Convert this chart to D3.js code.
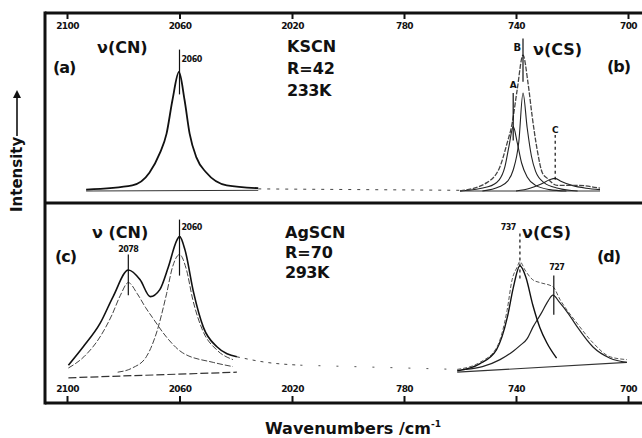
<!DOCTYPE html>
<html>
<head>
<meta charset="utf-8">
<script src="https://cdn.jsdelivr.net/npm/d3@7"></script>
<style>
  body { margin: 0; background: #fff; }
  svg { display: block; }
  text { font-family: "DejaVu Sans", sans-serif; font-weight: bold; fill: #111; }
</style>
</head>
<body>
<div id="chart"></div>
<script>
// tick labels (both panels share the same wavenumber ticks)
var cnTicks = [2100, 2060, 2020];
var csTicks = [780, 740, 700];

// (a) KSCN, nu(CN) band, [wavenumber, intensity]
var kscnCN = [[2093.2, 1], [2076.8, 4], [2070.7, 13], [2067, 27], [2064.6, 41], [2062.5, 65],
              [2060.2, 85], [2058.2, 65], [2056.4, 41], [2054, 24], [2050.4, 13], [2043.2, 4], [2032, 2]];
var kscnCNbase = [[2093.2, 0], [2032, 0.5]];

// (b) KSCN, nu(CS) observed band and fitted components A, B, C
var kscnCS = [[760, 0], [750.4, 6], [745.8, 17], [743.2, 34], [741.4, 48], [739.6, 72], [737.5, 97],
              [735.7, 77], [734.2, 53], [732.4, 29], [730.6, 13], [728.8, 9], [725.3, 4], [718, 4], [710, 2]];
var kscnA = [[760, 0], [750, 3], [746, 8], [744, 17], [742.5, 32], [741, 46], [739.5, 34],
             [738, 20], [736, 10], [733, 4], [728, 1], [722, 0]];
var kscnB = [[752, 0], [746, 3], [743, 7], [741, 15], [739, 35], [737.5, 70], [736, 45],
             [734.5, 25], [733, 14], [730, 6], [725, 2], [718, 0]];
var kscnC = [[740, 0], [735, 2], [731, 5], [728, 8], [726, 9], [724, 7], [720, 4], [715, 2], [710, 1]];
var kscnCSbase = [[760, 0], [710, 0]];

// (c) AgSCN, nu(CN) observed band and components at 2078 and 2060
var agCN = [[2099.5, 7], [2094.3, 20], [2088.2, 37], [2083.6, 56], [2078.2, 75], [2074, 68],
            [2070.4, 56], [2067, 61], [2064, 77], [2061, 96], [2060, 99], [2058, 89], [2055, 59],
            [2051.5, 34], [2046.6, 20], [2039.6, 13]];
var agCNtail = [[2039.6, 13], [2029, 9], [2017, 7]];
var ag2078 = [[2099.5, 5], [2094, 13], [2088, 28], [2084, 43], [2081, 57], [2078.2, 66], [2075, 58],
              [2072, 48], [2069.6, 41], [2064.6, 27], [2059, 16], [2048, 9], [2041, 6]];
var ag2060 = [[2082, 2], [2076.8, 5], [2071.8, 13], [2068.2, 30], [2064.6, 58], [2062.5, 77],
              [2060, 86], [2057.5, 75], [2055.3, 54], [2051.8, 32], [2046.8, 18], [2041, 11]];
var agCNbase = [[2099.5, -2], [2039.6, 2]];

// (d) AgSCN, nu(CS) observed band and components at 737 and 727
var agCS = [[761, 4], [752.9, 9], [746.8, 20], [743.2, 46], [741.4, 68], [739.6, 77], [738.6, 81],
            [736.8, 75], [734, 68], [731.4, 66], [726.8, 63], [724.3, 54], [718.2, 37], [712.5, 23],
            [706.4, 13], [700.4, 11]];
var ag737 = [[761, 3], [753, 8], [747, 18], [743, 42], [741, 62], [738.6, 78], [736.5, 70],
             [734, 50], [731.5, 34], [729, 23], [725.5, 12]];
var ag727 = [[758, 4], [752, 6], [745.7, 11], [741, 17], [738.6, 21], [736, 26], [734, 34], [731, 44],
             [728.5, 53], [726.8, 57], [724.5, 52], [721, 43], [718, 34], [712.5, 20], [706.4, 12], [700.4, 9]];
var agCSbase = [[761, 2], [700.4, 9]];

var W = 642, H = 438;
var svg = d3.select("#chart").append("svg").attr("width", W).attr("height", H);

var frame = {left: 45, top: 13, mid: 203, bottom: 403};

var xCN = d3.scaleLinear().domain([2100, 2020]).range([67, 292]);
var xCS = d3.scaleLinear().domain([780, 700]).range([404, 628]);
var yTop = d3.scaleLinear().domain([0, 100]).range([191, 51]);
var yBot = d3.scaleLinear().domain([0, 100]).range([375, 235]);

// frame
var fr = svg.append("g").attr("stroke", "#111").attr("stroke-width", 3).attr("fill", "none");
fr.append("line").attr("x1", frame.left).attr("x2", W).attr("y1", frame.top).attr("y2", frame.top);
fr.append("line").attr("x1", frame.left).attr("x2", W).attr("y1", frame.mid).attr("y2", frame.mid);
fr.append("line").attr("x1", frame.left).attr("x2", W).attr("y1", frame.bottom).attr("y2", frame.bottom);
fr.append("line").attr("x1", frame.left).attr("x2", frame.left).attr("y1", frame.top - 1.5).attr("y2", frame.bottom + 1.5);

// axes: top one with ticks hanging down, bottom one with ticks standing up
function styleAxis(g) {
    g.select(".domain").remove();
    g.selectAll(".tick line").attr("stroke", "#111").attr("stroke-width", 2);
    g.selectAll(".tick text").style("font-size", "9px").attr("letter-spacing", "-0.6");
}
[xCN, xCS].forEach(function (sc, i) {
    var ticks = i == 0 ? cnTicks : csTicks;
    svg.append("g").attr("transform", "translate(0," + frame.top + ")")
        .call(d3.axisBottom(sc).tickValues(ticks).tickSize(6).tickPadding(4).tickFormat(d3.format("d")))
        .call(styleAxis);
    svg.append("g").attr("transform", "translate(0," + frame.bottom + ")")
        .call(d3.axisTop(sc).tickValues(ticks).tickSize(7).tickPadding(4).tickFormat(d3.format("d")))
        .call(styleAxis);
});

function lineFor(x, y) {
    return d3.line().x(function (d) { return x(d[0]); }).y(function (d) { return y(d[1]); })
        .curve(d3.curveMonotoneX);
}
function draw(data, x, y, width, color, dash) {
    svg.append("path").datum(data)
        .attr("d", lineFor(x, y))
        .attr("fill", "none")
        .attr("stroke", color)
        .attr("stroke-width", width)
        .attr("stroke-dasharray", dash || null);
}

// panel a
draw(kscnCNbase, xCN, yTop, 1, "#333");
draw(kscnCN, xCN, yTop, 1.8, "#111");
// panel b
draw(kscnCSbase, xCS, yTop, 1, "#333");
draw(kscnC, xCS, yTop, 1.1, "#222");
draw(kscnA, xCS, yTop, 1.1, "#222");
draw(kscnB, xCS, yTop, 1.1, "#222");
draw(kscnCS, xCS, yTop, 1.3, "#444", "5,1.5");
// dashed baseline across the gap in the top panel
svg.append("line")
    .attr("x1", xCN(2032)).attr("x2", xCS(760)).attr("y1", yTop(1.5)).attr("y2", yTop(0.5))
    .attr("stroke", "#444").attr("stroke-width", 1).attr("stroke-dasharray", "3,6");

// panel c
draw(agCNbase, xCN, yBot, 1.2, "#333", "8,3");
draw(ag2078, xCN, yBot, 1, "#444", "6,2");
draw(ag2060, xCN, yBot, 1, "#444", "6,2");
draw(agCN, xCN, yBot, 1.6, "#111");
draw(agCNtail, xCN, yBot, 1, "#444", "3,5");
svg.append("line")
    .attr("x1", xCN(2017)).attr("x2", xCS(761)).attr("y1", yBot(7)).attr("y2", yBot(4))
    .attr("stroke", "#555").attr("stroke-width", 1).attr("stroke-dasharray", "2,16");

// panel d
draw(agCSbase, xCS, yBot, 1.2, "#333");
draw(ag727, xCS, yBot, 1.2, "#222");
draw(ag737, xCS, yBot, 1.4, "#111");
draw(agCS, xCS, yBot, 1, "#555", "4,2");

// peak markers [x scale, y scale, wavenumber, intensity from, intensity to, dashed]
var markers = [
    [xCN, yTop, 2060, 69, 101, false],
    [xCS, yTop, 737.5, 78, 109, false],
    [xCS, yTop, 741, 36, 70, false],
    [xCS, yTop, 726, 8, 40, true],
    [xCN, yBot, 2078.2, 57, 86, false],
    [xCN, yBot, 2060, 71, 111, false],
    [xCS, yBot, 738.6, 69, 102, true],
    [xCS, yBot, 726.5, 43, 71, false]
];
markers.forEach(function (m) {
    svg.append("line")
        .attr("x1", m[0](m[2])).attr("x2", m[0](m[2]))
        .attr("y1", m[1](m[3])).attr("y2", m[1](m[4]))
        .attr("stroke", "#111").attr("stroke-width", 1.2)
        .attr("stroke-dasharray", m[5] ? "3,3" : null);
});

// labels
function label(txt, x, y, size, anchor) {
    return svg.append("text").attr("x", x).attr("y", y)
        .attr("text-anchor", anchor || "start")
        .style("font-size", size + "px").text(txt);
}
label("ν(CN)", 97, 53, 16);
label("(a)", 53, 73, 16).attr("letter-spacing", "-1");
label("2060", xCN(2060) + 2, 62, 8).attr("letter-spacing", "-0.5");
label("KSCN", 287, 52, 16);
label("R=42", 287, 74, 16);
label("233K", 287, 96, 16).attr("letter-spacing", "-0.5");
label("B", xCS(737.5) - 2, 51, 10, "end");
label("ν(CS)", 533, 55, 16);
label("(b)", 607, 72, 16).attr("letter-spacing", "-1");
label("A", xCS(741), 88, 9, "middle");
label("C", xCS(726), 133, 9, "middle");

label("ν (CN)", 92, 238, 16);
label("(c)", 55, 262, 16).attr("letter-spacing", "-1");
label("2078", xCN(2078.2), 252, 8, "middle").attr("letter-spacing", "-0.5");
label("2060", xCN(2060) + 2, 230, 8).attr("letter-spacing", "-0.5");
label("AgSCN", 285, 238, 16);
label("R=70", 285, 258, 16);
label("293K", 285, 278, 16).attr("letter-spacing", "-0.5");
label("737", xCS(738.6) - 4, 230, 8, "end").attr("letter-spacing", "-0.5");
label("ν(CS)", 522, 238, 16);
label("(d)", 597, 262, 16).attr("letter-spacing", "-1");
label("727", xCS(726.5) + 3, 270, 8, "middle").attr("letter-spacing", "-0.5");

// axis titles
var xt = label("Wavenumbers /cm", 265, 434, 16);
xt.append("tspan").attr("dy", -7).style("font-size", "9px").text("-1");

var yl = svg.append("g").attr("transform", "translate(22,212) rotate(-90)");
yl.append("text").attr("x", 0).attr("y", 0).style("font-size", "15px").text("Intensity");
yl.append("line").attr("x1", 76).attr("x2", 114).attr("y1", -5).attr("y2", -5)
    .attr("stroke", "#111").attr("stroke-width", 1.6);
yl.append("path").attr("d", "M114,-9 L122,-5 L114,-1 Z").attr("fill", "#111");
</script>
</body>
</html>
